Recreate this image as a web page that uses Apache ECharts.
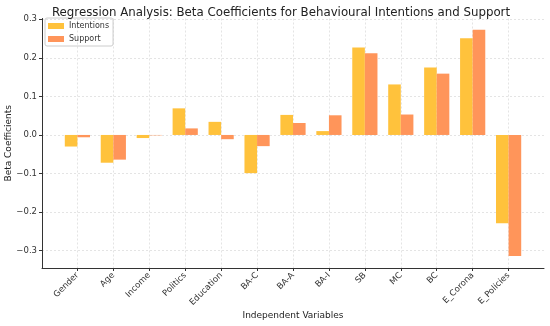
<!DOCTYPE html>
<html><head><meta charset="utf-8">
<script src="https://cdn.jsdelivr.net/npm/echarts@6/dist/echarts.min.js"></script>
<style>html,body{margin:0;padding:0;background:#fff}#c{width:550px;height:326px}</style>
</head><body><div id="c"></div>
<script>
const categories = ['Gender','Age','Income','Politics','Education','BA-C','BA-A','BA-I','SB','MC','BC','E_Corona','E_Policies'];
const intentions = [-0.030,-0.072,-0.008,0.069,0.034,-0.099,0.052,0.010,0.227,0.131,0.175,0.251,-0.229];
const support = [-0.006,-0.064,-0.001,0.017,-0.011,-0.029,0.031,0.051,0.212,0.053,0.159,0.273,-0.314];
const yTicks = [-0.3,-0.2,-0.1,0.0,0.1,0.2,0.3];

const xIdx = categories.map((c,i)=>i);
const font = 'DejaVu Sans';
const chart = echarts.init(document.getElementById('c'), null, {renderer:'canvas'});
chart.setOption({
  animation:false,
  textStyle:{fontFamily:font},
  title:{text:'Regression Analysis: Beta Coefficients for Behavioural Intentions and Support',left:276,top:2,textAlign:'center',
    textStyle:{fontFamily:font,fontSize:11.8,fontWeight:'normal',color:'#222'}},
  legend:{left:45,top:18,orient:'vertical',itemWidth:16,itemHeight:6,itemGap:5,borderColor:'#ccc',borderWidth:1,borderRadius:2,
    padding:[4,4,3,3],textStyle:{fontSize:8,color:'#333',fontFamily:font},data:['Intentions','Support'],icon:'rect'},
  grid:{left:42,right:6,top:18.5,bottom:58,containLabel:false,outerBoundsMode:'none'},
  xAxis:{type:'value',min:-0.985,max:12.985,
    name:'Independent Variables',nameLocation:'middle',nameGap:43,nameMoveOverlap:false,nameTextStyle:{fontSize:9,color:'#222',fontFamily:font},
    axisLine:{show:true,onZero:false,lineStyle:{color:'#333',width:1}},
    axisTick:{show:true,customValues:xIdx,length:3,lineStyle:{color:'#333'}},
    axisLabel:{customValues:xIdx,rotate:45,fontSize:8.5,color:'#333',margin:6,fontFamily:font,formatter:v=>categories[Math.round(v)]},
    splitLine:{show:true,lineStyle:{color:'#ddd',type:[2,2],width:0.8}}},
  yAxis:{type:'value',min:-0.345,max:0.302,
    name:'Beta Coefficients',nameLocation:'middle',nameGap:29,nameMoveOverlap:false,nameTextStyle:{fontSize:9,color:'#222',fontFamily:font},
    axisLine:{show:true,onZero:false,lineStyle:{color:'#333',width:1}},
    axisTick:{show:true,customValues:yTicks,length:3,lineStyle:{color:'#333'}},
    axisLabel:{customValues:yTicks,fontSize:8.5,color:'#333',margin:5,fontFamily:font,
      formatter:v=>(v<0?'\u2212':'')+Math.abs(v).toFixed(1)},
    splitLine:{show:true,lineStyle:{color:'#ddd',type:[2,2],width:0.8}}},
  series:[
    {name:'Intentions',type:'bar',barWidth:12.6,barGap:'0%',itemStyle:{color:'#FFC23C'},
      data:intentions.map((v,i)=>[i,v])},
    {name:'Support',type:'bar',barWidth:12.6,barGap:'0%',itemStyle:{color:'#FF955A'},
      data:support.map((v,i)=>[i,v])}
  ]
});
</script></body></html>
